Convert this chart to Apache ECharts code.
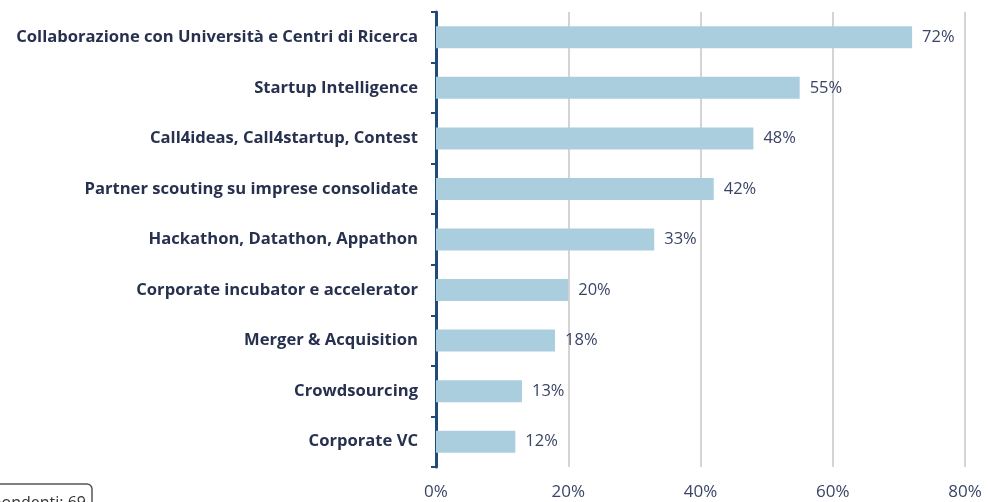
<!DOCTYPE html>
<html>
<head>
<meta charset="utf-8">
<script src="https://cdn.jsdelivr.net/npm/echarts@6/dist/echarts.min.js"></script>
<style>
  html, body { margin: 0; padding: 0; background: #fff; }
  #chart { width: 988px; height: 502px; }
</style>
</head>
<body>
<div id="chart"></div>
<script>
const categories = [
  'Collaborazione con Università e Centri di Ricerca',
  'Startup Intelligence',
  'Call4ideas, Call4startup, Contest',
  'Partner scouting su imprese consolidate',
  'Hackathon, Datathon, Appathon',
  'Corporate incubator e accelerator',
  'Merger & Acquisition',
  'Crowdsourcing',
  'Corporate VC'
]
const values = [72, 55, 48, 42, 33, 20, 18, 13, 12]
const noteText = 'Rispondenti: 69'

const navy = '#1f4b7a'
const textColor = '#27314f'

const chart = echarts.init(document.getElementById('chart'))

chart.setOption({
  animation: false,
  grid: { left: 436, right: 23, top: 12, bottom: 35, containLabel: false },
  xAxis: {
    type: 'value',
    min: 0,
    max: 80,
    interval: 20,
    axisLine: { show: false },
    axisTick: { show: false },
    axisLabel: {
      formatter: '{value}%',
      color: '#3a4566',
      fontFamily: 'Open Sans',
      fontSize: 17,
      margin: 17
    },
    splitLine: { lineStyle: { color: '#c6c6c6', width: 1.5 } }
  },
  yAxis: {
    type: 'category',
    inverse: true,
    data: categories,
    axisLine: { lineStyle: { color: navy, width: 3 } },
    axisTick: { show: true, length: 5, lineStyle: { color: navy, width: 2 } },
    axisLabel: {
      color: textColor,
      fontFamily: 'Open Sans',
      fontWeight: 'bold',
      fontSize: 16.6,
      margin: 18
    }
  },
  series: [{
    type: 'bar',
    data: values,
    barWidth: 22,
    itemStyle: { color: '#abcedf' },
    label: {
      show: true,
      position: 'right',
      distance: 10,
      formatter: '{c}%',
      color: '#3a4566',
      fontFamily: 'Open Sans',
      fontSize: 16.5
    }
  }],
  graphic: [
    {
      type: 'rect',
      shape: { x: -12, y: 484, width: 104, height: 30, r: 5 },
      style: { fill: '#fff', stroke: '#555', lineWidth: 1.5 }
    },
    {
      type: 'text',
      style: {
        text: noteText,
        x: 86,
        y: 495,
        align: 'right',
        fill: '#333',
        fontFamily: 'Open Sans',
        fontSize: 16
      }
    }
  ]
})
</script>
</body>
</html>
